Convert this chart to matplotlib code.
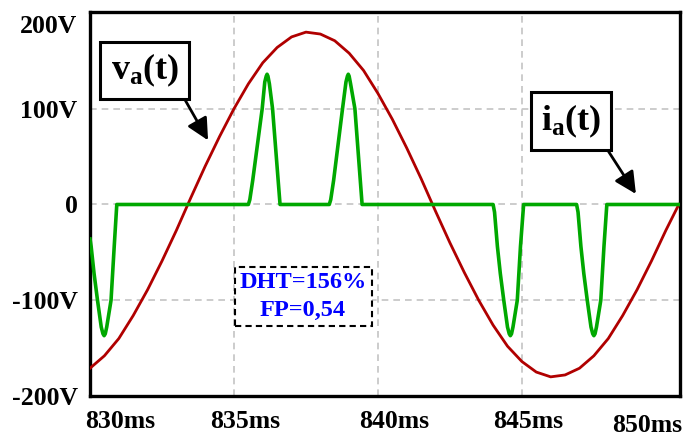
import matplotlib
matplotlib.use('Agg')
import matplotlib.pyplot as plt
import matplotlib.transforms as mtransforms

# datos (tiempo en ms, tensión en V, corriente en escala de V)
t_v = [830.0, 830.5, 831.0, 831.5, 832.0, 832.5, 833.0, 833.5, 834.0, 834.5,
       835.0, 835.5, 836.0, 836.5, 837.0, 837.5, 838.0, 838.5, 839.0, 839.5,
       840.0, 840.5, 841.0, 841.5, 842.0, 842.5, 843.0, 843.5, 844.0, 844.5,
       845.0, 845.5, 846.0, 846.5, 847.0, 847.5, 848.0, 848.5, 849.0, 849.5,
       850.0, 850.45]
v_a = [-171, -158, -140, -116, -89, -59, -27, 7, 40, 71,
       100, 126, 148, 164, 175, 180, 178, 171, 158, 140,
       116, 89, 59, 27, -7, -40, -71, -100, -126, -148,
       -164, -175, -180, -178, -171, -158, -140, -116, -89, -59,
       -27, 0]

t_i = [830.0, 830.04, 830.14, 830.26, 830.39, 830.45, 830.49, 830.53, 830.58, 830.73, 830.84, 830.93,
       835.5, 835.55, 835.65, 835.98, 836.07, 836.12, 836.15, 836.18, 836.23, 836.34, 836.6,
       838.31, 838.36, 838.46, 838.77, 838.89, 838.94, 838.97, 839.0, 839.05, 839.2, 839.45,
       844.0, 844.05, 844.15, 844.25, 844.37, 844.5, 844.56, 844.6, 844.64, 844.69, 844.84, 844.95, 845.06,
       846.9, 846.95, 847.05, 847.15, 847.27, 847.4, 847.46, 847.5, 847.54, 847.59, 847.74, 847.85, 847.95,
       850.45]
i_a = [-36, -44, -72, -100, -128, -135, -137, -135, -128, -100, -44, 0,
       0, 5, 25, 100, 128, 134, 136, 134, 126, 100, 0,
       0, 5, 25, 100, 128, 134, 136, 134, 126, 100, 0,
       0, -8, -44, -72, -100, -128, -135, -137, -135, -128, -100, -44, 0,
       0, -8, -44, -72, -100, -128, -135, -137, -135, -128, -100, -44, 0,
       0]

x_ticks = [830, 835, 840, 845, 850]
x_labels = ['830ms', '835ms', '840ms', '845ms', '850ms']
y_ticks = [-200, -100, 0, 100, 200]
y_labels = ['-200V', '-100V', '0', '100V', '200V']

plt.rcParams['font.family'] = ['Liberation Serif', 'DejaVu Serif']
plt.rcParams['font.weight'] = 'bold'
plt.rcParams['mathtext.fontset'] = 'custom'
plt.rcParams['mathtext.rm'] = 'Liberation Serif:bold'
plt.rcParams['mathtext.bf'] = 'Liberation Serif:bold'
plt.rcParams['mathtext.it'] = 'Liberation Serif:bold'

fig = plt.figure(figsize=(6.84, 4.37), dpi=100)
ax = fig.add_axes([0.1316, 0.0938, 0.8625, 0.8787])

ax.plot(t_v, v_a, color='#B00000', lw=2.0, zorder=3)
ax.plot(t_i, i_a, color='#00A800', lw=2.6, zorder=4)

ax.set_xlim(830, 850.49)
ax.set_ylim(-200, 201)

ax.set_xticks(x_ticks)
ax.set_xticklabels(x_labels, fontsize=18.5, fontweight='bold')
ax.set_yticks(y_ticks)
ax.set_yticklabels(y_labels, fontsize=18.5, fontweight='bold')
ax.tick_params(length=0)
ax.tick_params(axis='x', pad=10)
ax.tick_params(axis='y', pad=9)

# corrimientos de las etiquetas como en el original
dx = [30, 11, 16, 6, -19]
dy = [0, 0, 0, 0, -4]
for lab, a, b in zip(ax.get_xticklabels(), dx, dy):
    lab.set_transform(lab.get_transform() + mtransforms.ScaledTranslation(a / 100, b / 100, fig.dpi_scale_trans))
ylabs = ax.get_yticklabels()
ylabs[-1].set_transform(ylabs[-1].get_transform() + mtransforms.ScaledTranslation(0, -11 / 100, fig.dpi_scale_trans))

ax.grid(True, color='#C4C4C4', ls=(0, (4, 3)), lw=1.2)
ax.xaxis.get_gridlines()[-1].set_visible(False)
for s in ax.spines.values():
    s.set_linewidth(2.4)

box = dict(boxstyle='square,pad=0.28', fc='white', ec='black', lw=2.2)
arrow = dict(arrowstyle='-|>,head_length=0.6,head_width=0.3', color='black', lw=2.0,
             mutation_scale=22, relpos=(1, 0), shrinkA=0, shrinkB=0)
ax.annotate(r'$\mathbf{v_a(t)}$', xy=(834.1, 67), xytext=(831.9, 140), fontsize=26,
            ha='center', va='center', bbox=box, arrowprops=arrow, zorder=6)
ax.annotate(r'$\mathbf{i_a(t)}$', xy=(848.96, 11), xytext=(846.7, 87), fontsize=26,
            ha='center', va='center', bbox=box, arrowprops=arrow, zorder=6)

ax.text(837.4, -96, 'DHT=156%\nFP=0,54', color='#0000FF', fontsize=17.5, fontweight='bold',
        ha='center', va='center', linespacing=1.45, zorder=6,
        bbox=dict(boxstyle='square,pad=0.2', fc='white', ec='black', lw=1.5, ls=(0, (3, 2))))

fig.savefig('out.png', dpi=100)
